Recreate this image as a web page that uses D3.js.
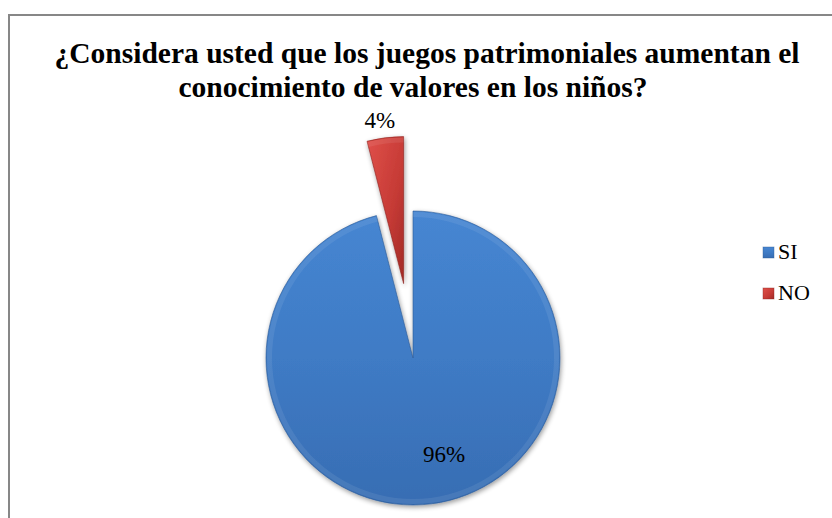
<!DOCTYPE html>
<html>
<head>
<meta charset="utf-8">
<script src="https://cdn.jsdelivr.net/npm/d3@7"></script>
</head>
<body style="margin:0">
<script>
var categories = ['SI', 'NO'];
var values = [96, 4];
var valueLabels = ['96%', '4%'];
var titleLines = ['¿Considera usted que los juegos patrimoniales aumentan el',
                  'conocimiento de valores en los niños?'];

var svgWidth = 832, svgHeight = 518;
var cx = 413, cy = 358, radius = 147;
var explode = 75;
var fontName = 'Liberation Serif';

var svg = d3.select('body')
    .append('svg')
    .attr('width', svgWidth)
    .attr('height', svgHeight);

var defs = svg.append('defs');

// bevel-ish gradients
var blueGrad = defs.append('linearGradient')
    .attr('id', 'blueGrad')
    .attr('x1', 0).attr('y1', 0).attr('x2', 0).attr('y2', 1);
blueGrad.append('stop').attr('offset', '0%').attr('stop-color', '#4686d2');
blueGrad.append('stop').attr('offset', '50%').attr('stop-color', '#3f7bc5');
blueGrad.append('stop').attr('offset', '100%').attr('stop-color', '#376db3');

var redGrad = defs.append('linearGradient')
    .attr('id', 'redGrad')
    .attr('x1', 0).attr('y1', 0).attr('x2', 1).attr('y2', 1);
redGrad.append('stop').attr('offset', '0%').attr('stop-color', '#e0504a');
redGrad.append('stop').attr('offset', '60%').attr('stop-color', '#c53a35');
redGrad.append('stop').attr('offset', '100%').attr('stop-color', '#a12a26');

var shadow = defs.append('filter')
    .attr('id', 'shadow')
    .attr('x', '-20%').attr('y', '-20%')
    .attr('width', '140%').attr('height', '140%');
shadow.append('feGaussianBlur')
    .attr('in', 'SourceAlpha')
    .attr('stdDeviation', 2.5);
shadow.append('feOffset').attr('dx', 1).attr('dy', 2);
shadow.append('feComponentTransfer').append('feFuncA')
    .attr('type', 'linear').attr('slope', 0.4);
var merge = shadow.append('feMerge');
merge.append('feMergeNode');
merge.append('feMergeNode').attr('in', 'SourceGraphic');

var fills = ['url(#blueGrad)', 'url(#redGrad)'];
var edges = ['#2d5a94', '#8c2320'];

// chart border (cropped on right/bottom)
svg.append('rect')
    .attr('x', 9).attr('y', 15)
    .attr('width', 860).attr('height', 540)
    .attr('fill', 'none')
    .attr('stroke', '#878787')
    .attr('stroke-width', 2);

// title
svg.selectAll('text.title')
    .data(titleLines)
    .join('text')
    .attr('class', 'title')
    .attr('x', function(d, i) { return i === 0 ? 427 : 413; })
    .attr('y', function(d, i) { return 63 + i * 34; })
    .attr('text-anchor', 'middle')
    .style('font-family', fontName)
    .style('font-size', '29.5px')
    .style('font-weight', 'bold')
    .text(function(d) { return d; });

var pie = d3.pie()
    .sort(null)
    .value(function(d) { return d; });

var arcs = pie(values);

var arc = d3.arc()
    .innerRadius(0)
    .outerRadius(radius);

function offset(d, i) {
    if (i !== 1) return [0, 0];
    var mid = (d.startAngle + d.endAngle) / 2;
    return [Math.sin(mid) * explode, -Math.cos(mid) * explode];
}

var slices = svg.append('g')
    .attr('transform', 'translate(' + cx + ',' + cy + ')');

var sliceG = slices.selectAll('g.slice')
    .data(arcs)
    .join('g')
    .attr('class', 'slice')
    .attr('transform', function(d, i) {
        var o = offset(d, i);
        return 'translate(' + o[0] + ',' + o[1] + ')';
    });

sliceG.append('path')
    .attr('d', arc)
    .attr('fill', function(d, i) { return fills[i]; })
    .attr('stroke', function(d, i) { return edges[i]; })
    .attr('stroke-width', 1)
    .attr('stroke-opacity', 0.6)
    .attr('filter', 'url(#shadow)');

// soft highlight just inside the rim
var rimArc = d3.arc()
    .innerRadius(radius - 6)
    .outerRadius(radius - 1);

sliceG.append('path')
    .attr('d', rimArc)
    .attr('fill', '#ffffff')
    .attr('fill-opacity', 0.08);

// labels
var inLabelArc = d3.arc()
    .innerRadius(radius * 0.66)
    .outerRadius(radius * 0.66);
var outLabelArc = d3.arc()
    .innerRadius(radius + 18)
    .outerRadius(radius + 18);

sliceG.append('text')
    .attr('transform', function(d, i) {
        var c = i === 1 ? outLabelArc.centroid(d) : inLabelArc.centroid(d);
        if (i === 0) c[0] += 19;
        if (i === 1) c[0] -= 3;
        return 'translate(' + c[0] + ',' + c[1] + ')';
    })
    .attr('text-anchor', 'middle')
    .attr('dy', '0.35em')
    .style('font-family', fontName)
    .style('font-size', '23px')
    .text(function(d, i) { return valueLabels[i]; });

// legend
var legend = svg.append('g')
    .attr('transform', 'translate(763,247)');

var item = legend.selectAll('g')
    .data(categories)
    .join('g')
    .attr('transform', function(d, i) { return 'translate(0,' + (i * 41) + ')'; });

item.append('rect')
    .attr('width', 11)
    .attr('height', 11)
    .attr('fill', function(d, i) { return fills[i]; })
    .attr('stroke', function(d, i) { return edges[i]; })
    .attr('stroke-opacity', 0.5)
    .attr('stroke-width', 0.8);

item.append('text')
    .attr('x', 15)
    .attr('y', 12)
    .style('font-family', fontName)
    .style('font-size', '22px')
    .text(function(d) { return d; });
</script>
</body>
</html>
